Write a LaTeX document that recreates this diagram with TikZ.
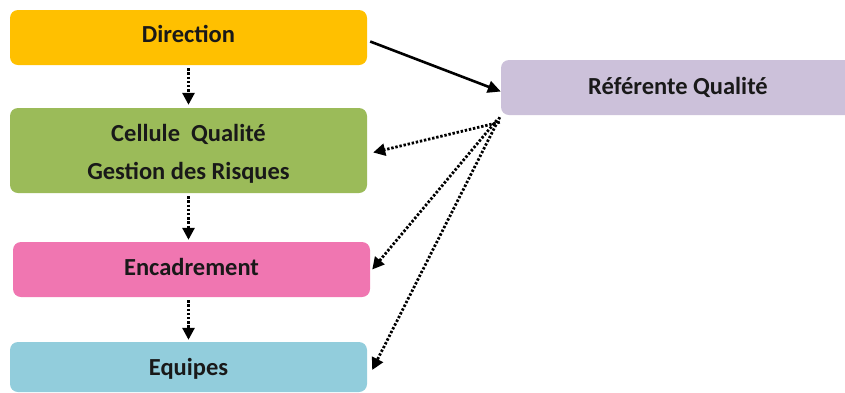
\documentclass[tikz,border=0pt]{standalone}
\usepackage{fontspec}
\setmainfont{Carlito}
\usetikzlibrary{arrows.meta}
\definecolor{cDir}{HTML}{FFC000}
\definecolor{cCel}{HTML}{9BBB59}
\definecolor{cEnc}{HTML}{F076B1}
\definecolor{cEq}{HTML}{92CDDC}
\definecolor{cRef}{HTML}{CCC1DA}
\newcommand{\shiftup}[2]{\raisebox{#1}[\height][\depth]{#2}}
\begin{document}
\begin{tikzpicture}[x=1pt,y=-1pt,
  box/.style={rectangle,rounded corners=8pt,inner sep=0pt,align=center,
    font=\fontsize{24.5}{38}\selectfont\bfseries,text=black!90},
  dotarrow/.style={line width=2.8pt,dash pattern=on 2.4pt off 1.8pt,
    -{Triangle[length=12pt,width=12pt]}},
  solidarrow/.style={line width=2.6pt,-{Triangle[length=13pt,width=12pt]}}]
\useasboundingbox (0,0) rectangle (845,392);
\node[box,fill=cDir,minimum width=357pt,minimum height=55pt] (dir) at (188.5,37.5) {\shiftup{4pt}{Direction}};
\node[box,fill=cCel,minimum width=357pt,minimum height=85pt] (cel) at (188.5,150.5) {\shiftup{-3pt}{Cellule~ Qualité}\\\shiftup{-3pt}{Gestion des Risques}};
\node[box,fill=cEnc,minimum width=357pt,minimum height=55pt] (enc) at (191.5,269.5) {\shiftup{3pt}{Encadrement}};
\node[box,fill=cEq,minimum width=357pt,minimum height=50pt] (eq) at (188.5,367) {\shiftup{-2pt}{Equipes}};
\node[box,fill=cRef,minimum width=354pt,minimum height=55pt] (ref) at (678,87.5) {Référente Qualité};
\draw[solidarrow] ([xshift=3pt,yshift=-4pt]dir.east) -- ([yshift=-4pt]ref.west);
\draw[dotarrow] ([yshift=-3pt]dir.south) -- ([yshift=3pt]cel.north);
\draw[dotarrow] ([yshift=-3pt]cel.south) -- ([xshift=-3pt,yshift=2pt]enc.north);
\draw[dotarrow] ([xshift=-3pt,yshift=-3pt]enc.south) -- ([yshift=2pt]eq.north);
\draw[dotarrow] ([xshift=-1pt,yshift=-7pt]ref.south west) -- ([xshift=6pt,yshift=-2pt]cel.east);
\draw[dotarrow] ([xshift=-4pt,yshift=-5pt]ref.south west) -- ([xshift=2pt,yshift=0pt]enc.east);
\draw[dotarrow] ([xshift=-1pt,yshift=-2pt]ref.south west) -- ([xshift=5pt,yshift=-3pt]eq.east);
\end{tikzpicture}
\end{document}
